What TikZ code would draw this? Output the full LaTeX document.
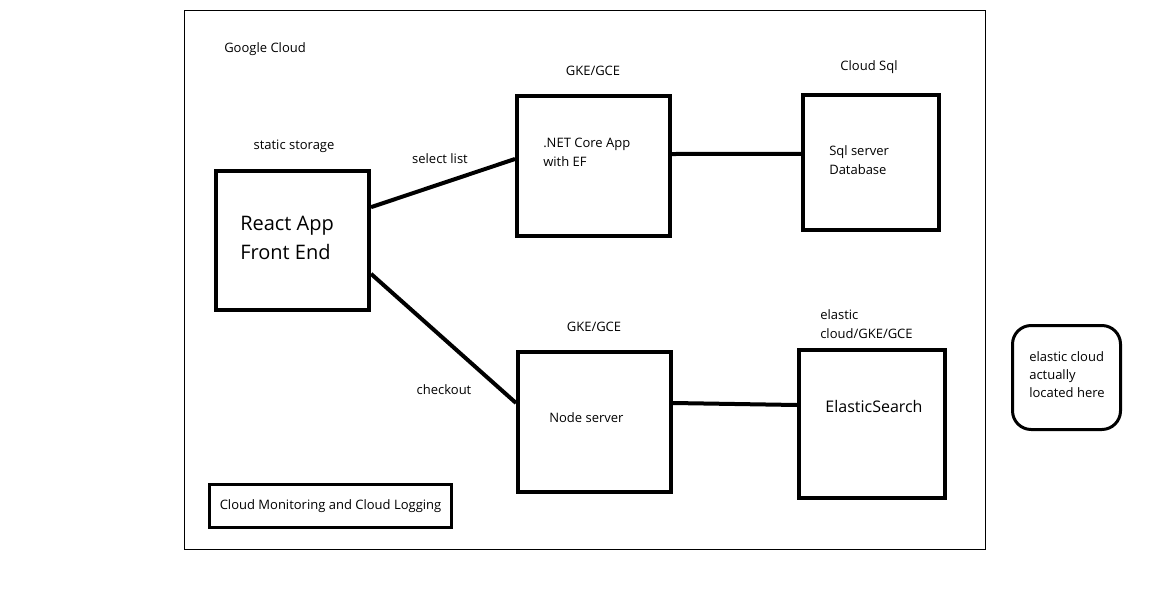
\documentclass[tikz,border=0pt]{standalone}
\usepackage{fontspec}
\setmainfont{Open Sans}
\newcommand{\smalltxt}{\fontsize{9.75pt}{14.25pt}\selectfont}
\begin{document}
\begin{tikzpicture}[
		x=0.75pt, y=-0.75pt,
		every node/.style={inner sep=0pt, align=left, font=\smalltxt},
		box/.style 2 args={draw=black, line width=3pt, minimum width=#1*0.75pt, minimum height=#2*0.75pt},
		link/.style={line width=3pt},
		label/.style={anchor=center}
		]
		\useasboundingbox (0,0) rectangle (1152,592);
		% frame
		\draw[line width=0.75pt] (184.5,10.5) rectangle (985.5,549.5);
		\node[anchor=west] (gcloud) at (224,49) {Google Cloud};
		% boxes
		\node[box={153}{139}] (react) at (292.5,240.5) {};
		\node[box={153}{140}] (net) at (593.5,166) {};
		\node[box={136}{135}] (sql) at (871,162.5) {};
		\node[box={153}{140}] (nodesrv) at (594.5,422) {};
		\node[box={146}{148}] (elastic) at (872,424) {};
		\node[box={108}{104}, line width=2.25pt, rounded corners=14pt] (here) at (1066.5,377.5) {};
		\node[box={242}{43}, line width=2.25pt] (monitor) at (330.5,506) {};
		% texts
		\node[anchor=west, font=\fontsize{15pt}{21.75pt}\selectfont] at (240,237.5) {React App\\Front End};
		\node[anchor=west] at (543,152.5) {.NET Core App\\with EF};
		\node[anchor=west] at (829,160.5) {Sql server\\Database};
		\node[anchor=west] at (549,418) {Node server};
		\node[font=\fontsize{12pt}{14pt}\selectfont] at (874,406) {ElasticSearch};
		\node[anchor=west, font=\fontsize{9.75pt}{13.5pt}\selectfont] at (1029,375) {elastic cloud\\actually\\located here};
		\node at (330.5,506) {Cloud Monitoring and Cloud Logging};
		% headings
		\node[label] at (294,146) {static storage};
		\node[label] at (593,71) {GKE/GCE};
		\node[label] at (869,67) {Cloud Sql};
		\node[label] at (594,327) {GKE/GCE};
		\node[anchor=west] at (820,324.5) {elastic\\cloud/GKE/GCE};
		% connectors
		\draw[link] ([yshift=25pt]react.east) -- ([yshift=5.25pt]net.west);
		\draw[link] ([yshift=-25pt]react.east) -- ([yshift=14.25pt]nodesrv.west);
		\draw[link] ([yshift=9pt]net.east) -- ([yshift=6.4pt]sql.west);
		\draw[link] ([yshift=14.25pt]nodesrv.east) -- ([yshift=14.25pt]elastic.west);
		\node[label] at (440,159) {select list};
		\node[label] at (444,390) {checkout};
	\end{tikzpicture}
\end{document}
